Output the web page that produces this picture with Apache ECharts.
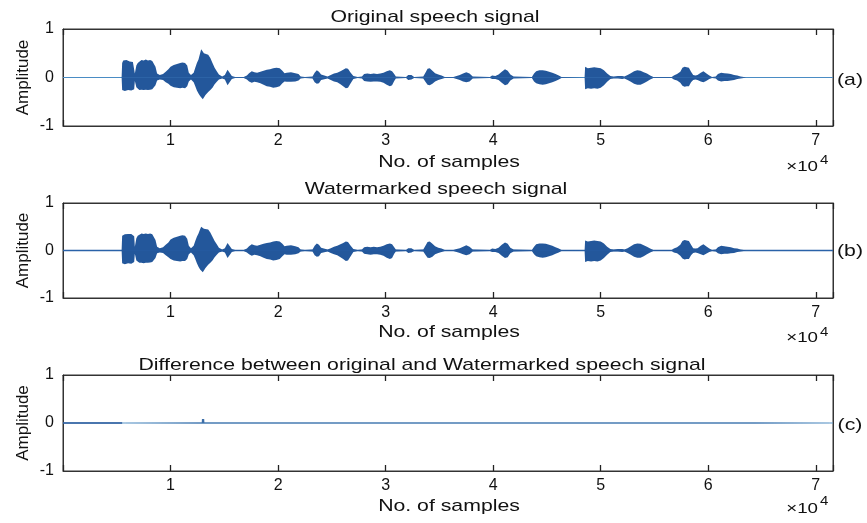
<!DOCTYPE html>
<html>
<head>
<meta charset="utf-8">
<script src="https://cdn.jsdelivr.net/npm/echarts@6/dist/echarts.min.js"></script>
<style>
html,body{margin:0;padding:0;background:#fff;}
#chart{width:867px;height:523px;}
</style>
</head>
<body>
<div id="chart"></div>
<script>
// ---------- data ----------
const panelTitles = ['Original speech signal', 'Watermarked speech signal', 'Difference between original and Watermarked speech signal'];
const panelTags = ['(a)', '(b)', '(c)'];
const xAxisName = 'No. of samples';
const yAxisName = 'Amplitude';
const xMax = 71600;
const xTickStep = 10000;
const yTicks = [-1, 0, 1];

// envelope sample positions (shared by panels a and b)
const envSamples = [0,5450,5500,5600,5750,5900,6050,6200,6350,6500,
6620,6680,6750,6820,6950,7100,7300,7500,7700,7900,
8100,8300,8450,8600,8750,9000,9300,9550,9800,10000,
10300,10600,10900,11100,11350,11550,11700,11900,12150,12300,
12450,12600,12750,12850,13000,13100,13250,13500,13700,13900,
14100,14300,14500,14800,15050,15300,15450,15700,16000,16800,
17100,17300,17550,17800,18050,18350,18650,18950,19250,19550,
19850,20150,20400,20600,20800,21200,21600,21900,22100,22500,
23200,23400,23600,23800,24000,24150,24600,24900,25200,25500,
25800,26050,26300,26500,26750,27000,27400,27800,28000,28300,
28600,28900,29200,29500,29800,30100,30400,30600,30800,30950,
31900,32100,32400,32650,33500,33700,33900,34100,34350,34600,
34900,35200,35500,36300,36600,36900,37200,37500,37800,38100,
39700,39900,40200,40500,40800,41100,41350,41600,41900,43600,
43800,44000,44300,44600,44900,45200,45500,45800,46100,46350,
48500,48550,48800,49100,49400,49700,50000,50300,50600,50900,
51200,51600,52000,52200,52500,52800,53100,53400,53700,54000,
54300,54600,54900,56600,56800,57100,57400,57600,57800,58000,
58200,58400,58600,58800,59000,59300,59550,59800,60100,60350,
60700,60900,61200,61500,61800,62100,62400,62700,63000,63300,
63500,71600];

const origUpper = [0,0,0.30,0.35,0.33,0.36,0.34,0.33,0.35,0.32,
0.30,0.08,0.06,0.25,0.30,0.34,0.36,0.35,0.37,0.35,
0.36,0.34,0.30,0.22,0.08,0.05,0.07,0.12,0.17,0.22,
0.26,0.28,0.30,0.31,0.30,0.25,0.10,0.05,0.10,0.20,
0.30,0.37,0.50,0.58,0.55,0.50,0.52,0.47,0.40,0.30,
0.20,0.13,0.06,0.02,0.05,0.16,0.12,0.03,0.01,0.01,
0.04,0.09,0.13,0.11,0.10,0.12,0.14,0.16,0.17,0.19,
0.20,0.19,0.14,0.09,0.10,0.11,0.09,0.07,0.02,0.01,
0.02,0.10,0.15,0.12,0.06,0.02,0.02,0.05,0.08,0.10,
0.13,0.16,0.19,0.18,0.10,0.03,0.01,0.02,0.07,0.08,
0.07,0.08,0.07,0.08,0.10,0.13,0.15,0.13,0.07,0.02,
0.01,0.05,0.05,0.01,0.02,0.10,0.18,0.19,0.14,0.09,
0.06,0.04,0.01,0.01,0.03,0.05,0.08,0.11,0.08,0.02,
0.01,0.04,0.03,0.06,0.12,0.17,0.14,0.06,0.02,0.01,
0.08,0.13,0.15,0.15,0.14,0.12,0.10,0.07,0.04,0.01,
0,0.22,0.19,0.20,0.21,0.20,0.19,0.15,0.08,0.03,
0.02,0.03,0.03,0.02,0.05,0.09,0.13,0.15,0.14,0.11,
0.08,0.04,0.01,0.01,0.04,0.07,0.12,0.20,0.22,0.21,
0.20,0.12,0.05,0.04,0.05,0.10,0.13,0.09,0.04,0.01,
0.02,0.07,0.10,0.09,0.08,0.07,0.05,0.04,0.02,0.01,
0,0];

const origLower = [0,0,-0.26,-0.27,-0.28,-0.27,-0.26,-0.25,-0.27,-0.26,
-0.24,-0.07,-0.05,-0.20,-0.24,-0.26,-0.25,-0.26,-0.25,-0.26,
-0.25,-0.24,-0.22,-0.16,-0.06,-0.04,-0.05,-0.10,-0.13,-0.17,
-0.20,-0.21,-0.22,-0.21,-0.22,-0.18,-0.08,-0.04,-0.10,-0.18,
-0.27,-0.33,-0.38,-0.42,-0.45,-0.44,-0.36,-0.30,-0.26,-0.21,
-0.14,-0.09,-0.04,-0.02,-0.04,-0.16,-0.12,-0.03,-0.01,-0.01,
-0.04,-0.08,-0.11,-0.09,-0.10,-0.12,-0.15,-0.18,-0.19,-0.21,
-0.20,-0.18,-0.12,-0.08,-0.09,-0.09,-0.08,-0.06,-0.02,-0.01,
-0.02,-0.10,-0.13,-0.12,-0.05,-0.02,-0.02,-0.05,-0.08,-0.10,
-0.14,-0.18,-0.22,-0.21,-0.12,-0.03,-0.01,-0.02,-0.07,-0.08,
-0.09,-0.08,-0.08,-0.09,-0.11,-0.15,-0.18,-0.16,-0.07,-0.02,
-0.01,-0.05,-0.04,-0.01,-0.02,-0.09,-0.15,-0.16,-0.13,-0.08,
-0.05,-0.03,-0.01,-0.01,-0.03,-0.05,-0.08,-0.10,-0.08,-0.02,
-0.01,-0.03,-0.03,-0.05,-0.11,-0.16,-0.14,-0.06,-0.02,-0.01,
-0.08,-0.12,-0.14,-0.15,-0.14,-0.12,-0.10,-0.07,-0.04,-0.01,
0,-0.24,-0.22,-0.23,-0.22,-0.23,-0.21,-0.16,-0.09,-0.03,
-0.02,-0.02,-0.03,-0.02,-0.05,-0.09,-0.13,-0.15,-0.15,-0.12,
-0.08,-0.04,-0.01,-0.01,-0.04,-0.06,-0.11,-0.17,-0.19,-0.18,
-0.18,-0.10,-0.05,-0.04,-0.05,-0.08,-0.10,-0.07,-0.03,-0.01,
-0.02,-0.06,-0.08,-0.07,-0.07,-0.06,-0.05,-0.03,-0.02,-0.01,
0,0];

const wmUpper = [0,0,0.31,0.35,0.34,0.36,0.35,0.33,0.35,0.33,
0.30,0.08,0.06,0.26,0.31,0.35,0.36,0.35,0.36,0.35,
0.36,0.34,0.30,0.22,0.08,0.05,0.07,0.12,0.17,0.23,
0.27,0.29,0.31,0.32,0.31,0.25,0.10,0.05,0.10,0.20,
0.29,0.36,0.45,0.50,0.49,0.46,0.47,0.44,0.38,0.29,
0.20,0.13,0.06,0.02,0.05,0.16,0.12,0.03,0.01,0.01,
0.04,0.09,0.13,0.11,0.10,0.12,0.14,0.16,0.17,0.19,
0.20,0.19,0.14,0.09,0.10,0.11,0.09,0.07,0.02,0.01,
0.02,0.10,0.15,0.12,0.06,0.02,0.02,0.05,0.08,0.10,
0.13,0.16,0.19,0.18,0.10,0.03,0.01,0.02,0.07,0.08,
0.07,0.08,0.07,0.08,0.10,0.13,0.15,0.13,0.07,0.02,
0.01,0.05,0.05,0.01,0.02,0.10,0.18,0.19,0.14,0.09,
0.06,0.04,0.01,0.01,0.03,0.05,0.08,0.11,0.08,0.02,
0.01,0.04,0.03,0.06,0.12,0.17,0.14,0.06,0.02,0.01,
0.08,0.13,0.15,0.15,0.14,0.12,0.10,0.07,0.04,0.01,
0,0.21,0.19,0.20,0.21,0.20,0.19,0.15,0.08,0.03,
0.02,0.03,0.03,0.02,0.05,0.09,0.13,0.15,0.14,0.11,
0.08,0.04,0.01,0.01,0.04,0.07,0.12,0.20,0.22,0.21,
0.20,0.12,0.05,0.04,0.05,0.10,0.13,0.09,0.04,0.01,
0.02,0.07,0.10,0.09,0.08,0.07,0.05,0.04,0.02,0.01,
0,0];

const wmLower = [0,0,-0.27,-0.28,-0.29,-0.28,-0.27,-0.26,-0.28,-0.27,
-0.24,-0.07,-0.05,-0.21,-0.25,-0.26,-0.26,-0.27,-0.26,-0.26,
-0.25,-0.24,-0.22,-0.16,-0.06,-0.04,-0.05,-0.10,-0.14,-0.18,
-0.21,-0.22,-0.23,-0.22,-0.22,-0.18,-0.08,-0.04,-0.10,-0.18,
-0.27,-0.34,-0.40,-0.44,-0.46,-0.44,-0.37,-0.30,-0.26,-0.21,
-0.14,-0.09,-0.04,-0.02,-0.04,-0.16,-0.12,-0.03,-0.01,-0.01,
-0.04,-0.08,-0.11,-0.09,-0.10,-0.12,-0.15,-0.18,-0.19,-0.21,
-0.20,-0.18,-0.12,-0.08,-0.09,-0.09,-0.08,-0.06,-0.02,-0.01,
-0.02,-0.10,-0.13,-0.12,-0.05,-0.02,-0.02,-0.05,-0.08,-0.10,
-0.14,-0.18,-0.22,-0.21,-0.12,-0.03,-0.01,-0.02,-0.07,-0.08,
-0.09,-0.08,-0.08,-0.09,-0.11,-0.15,-0.18,-0.16,-0.07,-0.02,
-0.01,-0.05,-0.04,-0.01,-0.02,-0.09,-0.15,-0.16,-0.13,-0.08,
-0.05,-0.03,-0.01,-0.01,-0.03,-0.05,-0.08,-0.10,-0.08,-0.02,
-0.01,-0.03,-0.03,-0.05,-0.11,-0.16,-0.14,-0.06,-0.02,-0.01,
-0.08,-0.12,-0.14,-0.15,-0.14,-0.12,-0.10,-0.07,-0.04,-0.01,
0,-0.24,-0.22,-0.23,-0.22,-0.23,-0.21,-0.16,-0.09,-0.03,
-0.02,-0.02,-0.03,-0.02,-0.05,-0.09,-0.13,-0.15,-0.15,-0.12,
-0.08,-0.04,-0.01,-0.01,-0.04,-0.06,-0.11,-0.17,-0.19,-0.18,
-0.18,-0.10,-0.05,-0.04,-0.05,-0.08,-0.10,-0.07,-0.03,-0.01,
-0.02,-0.06,-0.08,-0.07,-0.07,-0.06,-0.05,-0.03,-0.02,-0.01,
0,0];

// difference signal envelope (panel c)
const diffSamples = [0, 5480, 5500, 12900, 12920, 13130, 13150, 64250, 64300, 71600];
const diffUpper   = [0, 0, 0.008, 0.008, 0.085, 0.085, 0.008, 0.008, 0, 0];
const diffLower   = [0, 0, -0.008, -0.008, -0.012, -0.012, -0.008, -0.008, 0, 0];
const diffSilentEnd = 5500; // exact-zero part before speech starts

// ---------- layout / style ----------
const FONT = '"Liberation Sans", Arial, Helvetica, sans-serif';
const SX = 1.25;
const FILL = '#23579b';
const BOX = '#333333';
const gridLeft = 63, gridWidth = 770;
const grids = [
  {top: 29, height: 97},
  {top: 203, height: 95},
  {top: 375, height: 96}
];
const baseColors = ['#4a8cc4', '#2a62a8', '#5a96c8'];

const chart = echarts.init(document.getElementById('chart'), null, {renderer: 'canvas'});

function pairs(xs, ys) { return xs.map((x, i) => [x, ys[i]]); }

const gridOpt = grids.map(g => ({
  left: gridLeft, width: gridWidth, top: g.top, height: g.height,
  show: true, borderColor: BOX, borderWidth: 1, backgroundColor: 'transparent'
}));

const xAxes = [], yAxes = [];
grids.forEach((g, i) => {
  const common = {
    gridIndex: i, type: 'value', min: 0, max: xMax, interval: xTickStep,
    axisLine: {show: true, onZero: false, lineStyle: {color: BOX, width: 1}},
    splitLine: {show: false},
    axisTick: {show: true, inside: true, length: 6, lineStyle: {color: '#222', width: 1.3}}
  };
  xAxes.push(Object.assign({}, common, {
    position: 'bottom',
    axisLabel: {
      show: true, fontFamily: FONT, fontSize: 16, color: '#111', margin: 7,
      formatter: v => (v === 0 || v % xTickStep !== 0) ? '' : String(v / xTickStep)
    }
  }));
  xAxes.push(Object.assign({}, common, {position: 'top', axisLabel: {show: false}}));
  const ycommon = {
    gridIndex: i, type: 'value', min: yTicks[0], max: yTicks[yTicks.length - 1], interval: 1,
    axisLine: {show: true, onZero: false, lineStyle: {color: BOX, width: 1}},
    splitLine: {show: false},
    axisTick: {show: false}
  };
  yAxes.push(Object.assign({}, ycommon, {
    position: 'left',
    axisLabel: {show: true, fontFamily: FONT, fontSize: 16, color: '#111', margin: 9}
  }));
  yAxes.push(Object.assign({}, ycommon, {position: 'right', axisLabel: {show: false}}));
});

function areaSeries(i, data, color) {
  return {
    type: 'line', xAxisIndex: 2 * i, yAxisIndex: 2 * i, data: data,
    showSymbol: false, symbol: 'none', silent: true, z: 3,
    lineStyle: {color: color, width: 0, opacity: 0},
    areaStyle: {color: color, opacity: 1, origin: 'auto'}
  };
}
function baseSeries(i, data, color, width, z) {
  return {
    type: 'line', xAxisIndex: 2 * i, yAxisIndex: 2 * i, data: data,
    showSymbol: false, symbol: 'none', silent: true, z: z,
    lineStyle: {color: color, width: width}
  };
}

const series = [
  baseSeries(0, [[0, 0], [xMax, 0]], baseColors[0], 1.2, 2),
  areaSeries(0, pairs(envSamples, origUpper), FILL),
  areaSeries(0, pairs(envSamples, origLower), FILL),
  baseSeries(1, [[0, 0], [xMax, 0]], baseColors[1], 1.5, 2),
  areaSeries(1, pairs(envSamples, wmUpper), FILL),
  areaSeries(1, pairs(envSamples, wmLower), FILL),
  baseSeries(2, [[0, 0], [xMax, 0]], baseColors[2], 1.2, 2),
  baseSeries(2, [[0, 0], [diffSilentEnd, 0]], '#2a5a9c', 1.6, 4),
  areaSeries(2, pairs(diffSamples, diffUpper), '#3c6ea8'),
  areaSeries(2, pairs(diffSamples, diffLower), '#3c6ea8')
];

// ---------- texts ----------
const titlePos = [[435, 17], [436, 189], [422, 365]];
const xNamePos = [[449, 162], [449, 332.5], [449, 506]];
const expPos = [[167, 161], [338, 333], [509, 502]];
const tagY = [80, 251.5, 425];

function txt(x, y, text, size, align, extra) {
  return Object.assign({
    type: 'text', x: x, y: y, silent: true, z: 10,
    style: {
      text: text, x: 0, y: 0, font: size + 'px ' + FONT, fill: '#111',
      textAlign: align, align: align, textVerticalAlign: 'middle', verticalAlign: 'middle'
    }
  }, extra || {});
}

const graphics = [];
grids.forEach((g, i) => {
  graphics.push(txt(titlePos[i][0], titlePos[i][1], panelTitles[i], 17, 'center', {scaleX: SX}));
  graphics.push(txt(xNamePos[i][0], xNamePos[i][1], xAxisName, 17, 'center', {scaleX: SX}));
  graphics.push(txt(818, expPos[i][0], '\u00d710', 15, 'right', {scaleX: SX}));
  graphics.push(txt(820, expPos[i][1], '4', 12, 'left', {scaleX: SX}));
  graphics.push(txt(850, tagY[i], panelTags[i], 17, 'center', {scaleX: SX}));
  graphics.push(txt(23, g.top + g.height / 2, yAxisName, 17, 'center', {rotation: Math.PI / 2}));
});

chart.setOption({
  animation: false,
  backgroundColor: '#ffffff',
  grid: gridOpt,
  xAxis: xAxes,
  yAxis: yAxes,
  series: series,
  graphic: {elements: graphics}
});
</script>
</body>
</html>
